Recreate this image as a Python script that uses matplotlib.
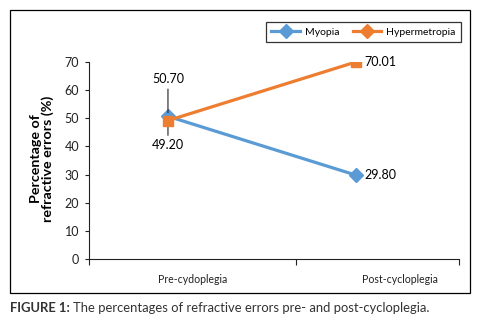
import matplotlib
matplotlib.use("Agg")
import matplotlib.pyplot as plt
from matplotlib.lines import Line2D
from matplotlib.patches import Rectangle

categories = ["Pre-cydoplegia", "Post-cycloplegia"]
myopia = [50.70, 29.80]
hypermetropia = [49.20, 70.01]
yticks = [0, 10, 20, 30, 40, 50, 60, 70]

plt.rcParams['font.family'] = ['Lato', 'DejaVu Sans']
W, H = 484, 324
fig = plt.figure(figsize=(W / 100, H / 100), dpi=100)
ax = fig.add_axes([89 / W, 1 - 259 / H, (459 - 89) / W, (259 - 62) / H])

blue = "#5B9BD5"
orange = "#ED7D31"
xpos = [0, 1]
ax.plot(xpos, myopia, color=blue, lw=2.3, marker='D', ms=7, zorder=3)
ax.plot(xpos, hypermetropia, color=orange, lw=2.3, marker='s', ms=6.5, zorder=4)

ax.set_xlim(-0.42, 1.548)
ax.set_ylim(0, 70)
ax.set_yticks(yticks)
ax.tick_params(axis='y', length=3, width=0.8, pad=4, labelsize=9, colors='#222222')
ax.set_xticks([0.133, 1.234])
ax.set_xticklabels(categories)
ax.tick_params(axis='x', which='major', length=0, pad=11, labelsize=7.6, colors='#222222')
ax.set_xticks([-0.42, 0.68, 1.548], minor=True)
ax.tick_params(axis='x', which='minor', length=4, width=0.8, color='#222222')
for s in ['top', 'right']:
    ax.spines[s].set_visible(False)
for s in ['left', 'bottom']:
    ax.spines[s].set_color('#222222')
    ax.spines[s].set_linewidth(0.8)

ax.set_ylabel("Percentage of\nrefractive errors (%)", fontsize=10.3, fontweight='bold',
              linespacing=0.95)
ax.yaxis.set_label_coords(54 / W, 1 - 159 / H, transform=fig.transFigure)

# data labels
ax.annotate(f"{myopia[0]:.2f}", xy=(xpos[0], myopia[0] + 1.3), xytext=(0, 20),
            textcoords='offset points', ha='center', va='bottom', fontsize=9,
            arrowprops=dict(arrowstyle='-', color='#222222', lw=0.8, shrinkA=1, shrinkB=0))
ax.annotate(f"{hypermetropia[0]:.2f}", xy=(xpos[0], hypermetropia[0] - 1.3), xytext=(0, -11),
            textcoords='offset points', ha='center', va='top', fontsize=9,
            arrowprops=dict(arrowstyle='-', color='#222222', lw=0.8, shrinkA=1, shrinkB=0))
ax.annotate(f"{hypermetropia[1]:.2f}", xy=(xpos[1], hypermetropia[1]), xytext=(6, 0),
            textcoords='offset points', ha='left', va='center', fontsize=9)
ax.annotate(f"{myopia[1]:.2f}", xy=(xpos[1], myopia[1]), xytext=(6, 0),
            textcoords='offset points', ha='left', va='center', fontsize=9)

handles = [Line2D([], [], color=blue, lw=2.3, marker='D', ms=7),
           Line2D([], [], color=orange, lw=2.3, marker='D', ms=7)]
leg = fig.legend(handles, ["Myopia", "Hypermetropia"], loc='upper right',
                 bbox_to_anchor=(466 / W, 1 - 17 / H), ncol=2, fontsize=7.5,
                 frameon=True, fancybox=False, edgecolor='black', handlelength=2.7,
                 columnspacing=1.3, handletextpad=0.5, borderpad=0.5)
leg.get_frame().set_linewidth(0.9)

# outer frame
fig.patches.append(Rectangle((10 / W, 1 - 293 / H), 460 / W, 283 / H, transform=fig.transFigure,
                             fill=False, edgecolor='black', lw=0.9))

# caption
t1 = fig.text(10 / W, 1 - 308 / H, "FIGURE 1:", fontsize=9.4, fontweight='bold',
              color='#333333', va='center', ha='left')
fig.canvas.draw()
bb = t1.get_window_extent(fig.canvas.get_renderer())
fig.text(bb.x1 / W + 3 / W, 1 - 308 / H, "The percentages of refractive errors pre- and post-cycloplegia.",
         fontsize=9.4, color='#333333', va='center', ha='left')

fig.savefig("out.png", dpi=100)
